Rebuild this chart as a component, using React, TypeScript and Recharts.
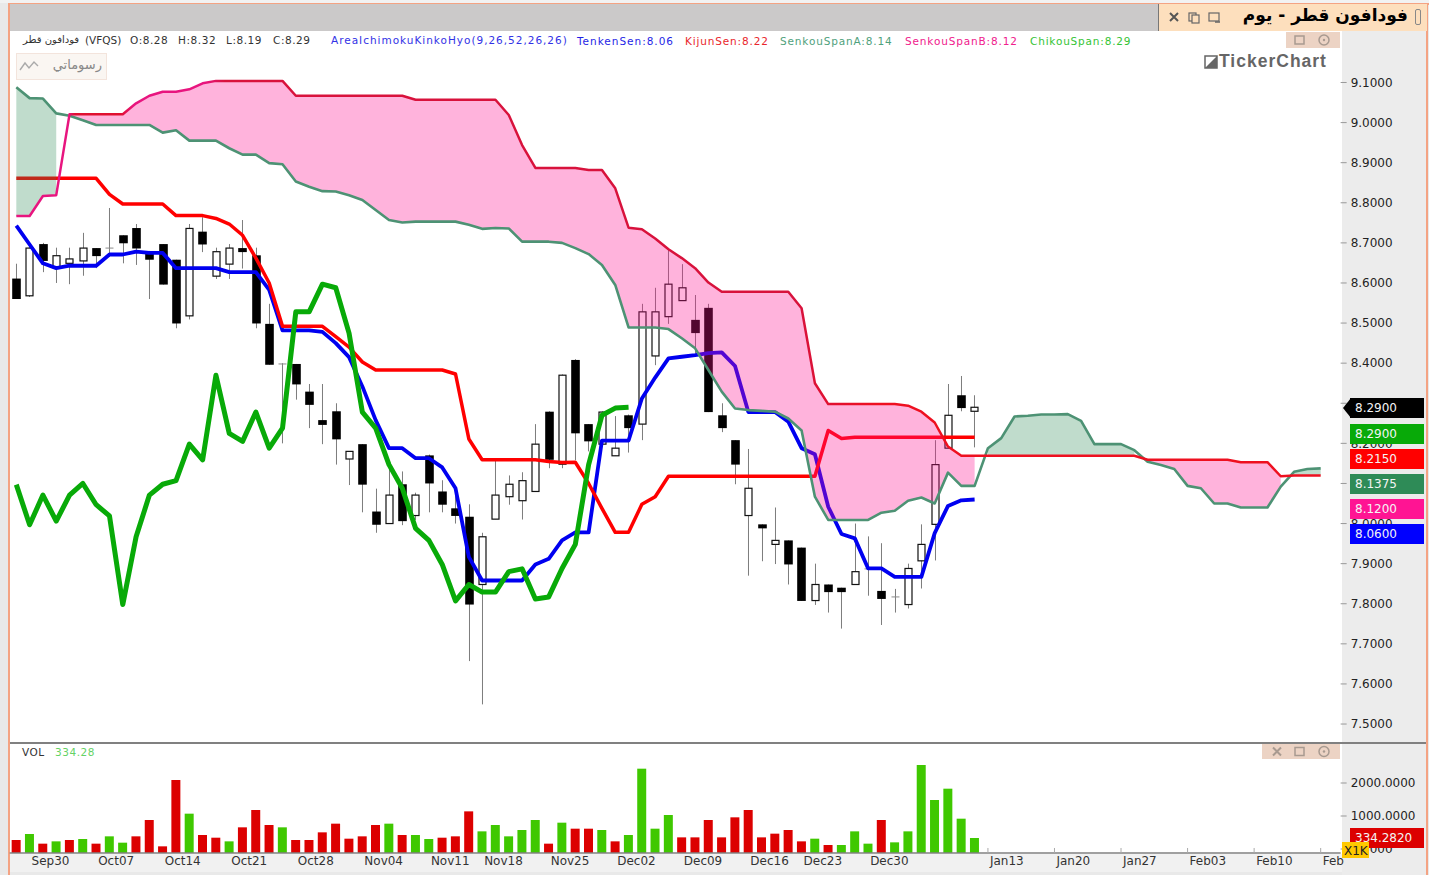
import React from "react";
import { ComposedChart, Bar, Line, Area, XAxis, YAxis, Cell } from "recharts";

const opens = [8.611,8.568,8.697,8.638,8.649,8.655,8.687,8.687,8.719,8.737,8.677,8.697,8.658,8.518,8.728,8.617,8.647,8.687,8.669,8.498,8.398,8.398,8.329,8.258,8.28,8.161,8.198,8.03,8.0,8.098,8.02,8.17,8.08,8.038,8.017,7.848,8.011,8.067,8.057,8.08,8.279,8.148,8.408,8.248,8.198,8.169,8.27,8.248,8.418,8.516,8.556,8.508,8.538,8.27,8.208,8.02,7.998,7.948,7.958,7.94,7.808,7.848,7.84,7.848,7.887,7.832,7.817,7.798,7.907,7.998,8.188,8.32,8.28];
const closes = [8.56,8.687,8.655,8.668,8.66,8.687,8.667,8.687,8.699,8.686,8.658,8.596,8.499,8.736,8.696,8.678,8.687,8.677,8.499,8.396,8.398,8.347,8.296,8.246,8.21,8.18,8.097,7.997,8.071,8.006,8.071,8.1,8.047,8.019,7.798,7.967,8.071,8.098,8.107,8.198,8.159,8.37,8.225,8.205,8.278,8.188,8.238,8.528,8.528,8.597,8.588,8.475,8.278,8.238,8.147,8.088,7.988,7.958,7.898,7.807,7.848,7.829,7.829,7.88,7.887,7.812,7.817,7.888,7.948,8.147,8.27,8.288,8.29];
const highs = [8.648,8.69,8.7,8.688,8.688,8.725,8.687,8.787,8.719,8.747,8.68,8.697,8.658,8.747,8.764,8.688,8.697,8.757,8.688,8.548,8.4,8.398,8.348,8.348,8.3,8.18,8.198,8.087,8.15,8.13,8.077,8.172,8.108,8.083,8.048,7.977,8.157,8.12,8.128,8.248,8.28,8.372,8.41,8.248,8.28,8.268,8.272,8.548,8.588,8.684,8.647,8.57,8.548,8.3,8.208,8.186,7.998,8.04,7.958,7.94,7.9,7.848,7.84,8.0,7.968,7.951,7.837,7.9,7.998,8.208,8.348,8.368,8.32];
const lows = [8.56,8.565,8.627,8.6,8.597,8.618,8.637,8.665,8.649,8.645,8.56,8.596,8.487,8.509,8.677,8.61,8.61,8.636,8.487,8.396,8.2,8.309,8.238,8.198,8.147,8.096,8.028,7.977,8.0,7.996,8.009,8.028,8.028,8.0,7.657,7.549,8.011,8.047,8.01,8.08,8.138,8.138,8.158,8.18,8.198,8.169,8.177,8.208,8.395,8.498,8.556,8.425,8.278,8.228,8.098,7.87,7.906,7.899,7.848,7.807,7.797,7.778,7.738,7.848,7.82,7.747,7.778,7.788,7.838,7.908,8.188,8.28,8.19];
const tenkan = [8.743,8.696,8.649,8.637,8.643,8.643,8.643,8.671,8.671,8.678,8.675,8.675,8.637,8.637,8.637,8.637,8.627,8.627,8.627,8.583,8.482,8.482,8.482,8.478,8.45,8.415,8.342,8.258,8.188,8.188,8.163,8.163,8.14,8.088,7.917,7.858,7.858,7.858,7.858,7.898,7.912,7.958,7.978,7.978,8.207,8.207,8.207,8.312,8.364,8.412,8.416,8.42,8.425,8.427,8.393,8.278,8.278,8.278,8.254,8.188,8.173,8.042,7.974,7.963,7.888,7.888,7.867,7.867,7.867,7.976,8.044,8.058,8.06];
const kijun = [8.861,8.861,8.861,8.861,8.861,8.861,8.861,8.821,8.797,8.797,8.797,8.797,8.768,8.768,8.768,8.761,8.747,8.719,8.662,8.6,8.492,8.492,8.492,8.492,8.466,8.44,8.403,8.383,8.383,8.383,8.383,8.383,8.383,8.373,8.211,8.159,8.159,8.159,8.159,8.159,8.155,8.152,8.153,8.1,8.038,7.978,7.978,8.048,8.067,8.118,8.118,8.118,8.118,8.118,8.118,8.118,8.118,8.118,8.118,8.118,8.118,8.232,8.212,8.215,8.215,8.215,8.215,8.215,8.215,8.215,8.215,8.215,8.215];
const chikou = [8.097,7.997,8.071,8.006,8.071,8.1,8.047,8.019,7.798,7.967,8.071,8.098,8.107,8.198,8.159,8.37,8.225,8.205,8.278,8.188,8.238,8.528,8.528,8.597,8.588,8.475,8.278,8.238,8.147,8.088,7.988,7.958,7.898,7.807,7.848,7.829,7.829,7.88,7.887,7.812,7.817,7.888,7.948,8.147,8.27,8.288,8.29];
const senkouA = [9.088,9.061,9.06,9.023,9.017,9.006,8.994,8.994,8.994,8.994,8.994,8.975,8.981,8.955,8.955,8.955,8.936,8.92,8.92,8.899,8.896,8.853,8.84,8.829,8.828,8.819,8.807,8.782,8.757,8.751,8.753,8.753,8.753,8.753,8.745,8.735,8.737,8.736,8.703,8.703,8.703,8.7,8.687,8.672,8.645,8.595,8.489,8.489,8.489,8.485,8.462,8.437,8.383,8.329,8.287,8.283,8.281,8.279,8.262,8.232,8.067,8.009,8.009,8.009,8.009,8.027,8.032,8.057,8.065,8.05,8.127,8.094,8.094,8.188,8.213,8.267,8.269,8.272,8.272,8.273,8.256,8.198,8.198,8.198,8.183,8.154,8.146,8.136,8.094,8.088,8.05,8.05,8.04,8.04,8.04,8.092,8.129,8.136,8.1375];
const senkouB = [8.767,8.767,8.817,8.819,9.021,9.021,9.021,9.021,9.021,9.048,9.067,9.077,9.077,9.083,9.098,9.104,9.104,9.104,9.104,9.104,9.104,9.067,9.067,9.067,9.067,9.067,9.067,9.067,9.067,9.067,9.057,9.057,9.057,9.057,9.057,9.057,9.057,9.019,8.944,8.887,8.887,8.887,8.887,8.882,8.882,8.836,8.738,8.734,8.711,8.684,8.662,8.637,8.601,8.578,8.578,8.578,8.578,8.578,8.578,8.537,8.35,8.298,8.298,8.298,8.298,8.298,8.298,8.294,8.279,8.252,8.192,8.169,8.169,8.169,8.169,8.169,8.169,8.169,8.169,8.169,8.169,8.169,8.169,8.169,8.169,8.159,8.159,8.159,8.159,8.159,8.159,8.159,8.153,8.153,8.153,8.118,8.12,8.12,8.12];
const volumes = [273,455,162,232,273,303,162,384,192,384,879,81,2091,1071,424,343,232,657,1182,727,657,273,273,505,768,313,384,727,768,424,424,303,343,384,1141,535,727,384,576,879,162,798,616,616,576,232,424,2434,616,1030,353,353,879,353,960,1182,353,465,576,232,313,121,121,535,162,879,202,535,2545,1485,1828,919,334.282];
const volumeUp = [0,1,0,1,0,1,0,1,1,0,0,0,0,1,0,0,1,0,0,0,1,0,0,0,0,0,0,0,1,0,1,1,0,0,0,1,1,1,1,1,0,1,0,0,1,0,1,1,1,1,0,0,0,0,0,0,0,0,0,0,1,0,1,1,1,0,1,1,1,1,1,1,1];
const priceTicks = [9.1,9.0,8.9,8.8,8.7,8.6,8.5,8.4,8.3,8.2,8.1,8.0,7.9,7.8,7.7,7.6,7.5];
const volumeTicks = [0,1000,2000];
const dateTickIndex = [1,6,11,16,21,26,31,35,40,45,50,55,59,64,73,78,83,88,93,98];
const dateTickLabels = ["Sep30","Oct07","Oct14","Oct21","Oct28","Nov04","Nov11","Nov18","Nov25","Dec02","Dec09","Dec16","Dec23","Dec30","Jan13","Jan20","Jan27","Feb03","Feb10","Feb"];
const lastValues = { close: 8.29, chikou: 8.29, kijun: 8.215, spanA: 8.1375, spanB: 8.12, tenkan: 8.06, volume: 334.282 };

const rows = Array.from({ length: 100 }, (_, i) => {
  const a = senkouA[i] ?? null;
  const b = senkouB[i] ?? null;
  const has = a !== null && b !== null;
  return {
    i,
    open: opens[i] ?? null,
    close: closes[i] ?? null,
    high: highs[i] ?? null,
    low: lows[i] ?? null,
    range: highs[i] != null ? [lows[i], highs[i]] : null,
    tenkan: tenkan[i] ?? null,
    kijun: kijun[i] ?? null,
    chikou: chikou[i] ?? null,
    a,
    b,
    pinkCloud: has && b > a ? [a, b] : null,
    greenCloud: has && a >= b ? [b, a] : null,
  };
});

const VOL_FLOOR = -121;
const volRows = Array.from({ length: 100 }, (_, i) => ({
  i,
  vol: volumes[i] != null ? [VOL_FLOOR, volumes[i]] : null,
}));

const uiFont = '"DejaVu Sans", sans-serif';
const lineJoin = { strokeLinejoin: "round", strokeLinecap: "butt" } as any;

const Candle = (props: any) => {
  const { x, y, width, height, payload } = props;
  if (!payload || payload.high == null) return null;
  const top = Math.min(y, y + height);
  const h = Math.abs(height);
  const span = payload.high - payload.low || 1;
  const py = (p: number) => top + ((payload.high - p) / span) * h;
  const cx = Math.round(x + width / 2) + 0.5;
  const up = payload.close > payload.open;
  const bt = py(Math.max(payload.open, payload.close));
  const bb = py(Math.min(payload.open, payload.close));
  const doji = Math.abs(payload.close - payload.open) < 0.001;
  return (
    <g>
      <line x1={cx} x2={cx} y1={top} y2={top + h} stroke="#7c7c7c" strokeWidth={1} />
      {doji ? (
        <line x1={cx - 4} x2={cx + 4} y1={bt} y2={bt} stroke="#8a8a8a" strokeWidth={1} />
      ) : up ? (
        <rect x={cx - 3.5} y={bt} width={7} height={bb - bt} fill="#fff" stroke="#111" strokeWidth={1.2} />
      ) : (
        <rect x={cx - 4.3} y={bt} width={8.6} height={bb - bt} fill="#000" />
      )}
    </g>
  );
};

const XTick = (props: any) => {
  const { x, payload } = props;
  const k = dateTickIndex.indexOf(payload.value);
  return (
    <g>
      {payload.value >= 73 && <line x1={x} x2={x} y1={104} y2={109} stroke="#aaa" />}
      <text x={x + 2} y={121} fontFamily={uiFont} fontSize={12} fill="#333" textAnchor="start">
        {dateTickLabels[k]}
      </text>
    </g>
  );
};

const Txt = ({ x, y, c, s = 10.5, f = uiFont, w = 400, children, ls = 0.55 }: any) => (
  <div style={{ position: "absolute", left: x, top: y, color: c, fontSize: s, fontFamily: f, fontWeight: w, whiteSpace: "nowrap", lineHeight: "14px", letterSpacing: ls }}>
    {children}
  </div>
);

const Box = ({ x, y, w, h, bg, style }: any) => (
  <div style={{ position: "absolute", left: x, top: y, width: w, height: h, background: bg, ...style }} />
);

const Badge = ({ y, bg, v }: any) => (
  <div style={{ position: "absolute", left: 1350, top: y, width: 74, height: 20, background: bg, color: "#f4f4f4", fontFamily: uiFont, fontSize: 12, lineHeight: "20px", paddingLeft: 5, boxSizing: "border-box" }}>
    {v}
  </div>
);

const PanelIcons = ({ x, y, w, h, close }: any) => (
  <svg style={{ position: "absolute", left: x, top: y }} width={w} height={h}>
    <rect width={w} height={h} fill="#ecd3c4" />
    {close && <path d={`M11 ${h / 2 - 4} l8 8 m0 -8 l-8 8`} stroke="#a89a90" strokeWidth={2} />}
    <rect x={w - 45} y={h / 2 - 4} width={9} height={8} fill="none" stroke="#a89a90" strokeWidth={1.5} />
    <circle cx={w - 16} cy={h / 2} r={5} fill="none" stroke="#a89a90" strokeWidth={1.5} />
    <circle cx={w - 16} cy={h / 2} r={1.2} fill="#a89a90" />
  </svg>
);

export default function App() {
  return (
    <div style={{ position: "absolute", left: 0, top: 0, width: 1429, height: 875, overflow: "hidden", background: "#e9e9e9" }}>
      <Box x={0} y={0} w={1429} h={3} bg="#f2f2f2" />
      <Box x={8} y={3} w={1421} h={1.5} bg="#f4a383" />
      <Box x={8} y={3} w={2} h={872} bg="#f4a383" />
      <Box x={1426} y={3} w={2} h={872} bg="#f4a383" />
      <Box x={10} y={4} w={1416} h={27} bg="#cbc9c9" />
      <Box x={1158} y={4} w={268} h={27} bg="#fddfbd" style={{ borderLeft: "1px solid #777" }} />
      <Box x={10} y={31} w={1332} h={823} bg="#fff" />
      <Box x={1342} y={31} w={84} h={844} bg="#ececec" />
      <Box x={10} y={854} w={1332} h={18} bg="#f1f1f1" />

      <div style={{ position: "absolute", left: 0, top: 0 }}>
        <ComposedChart width={1425.65} height={742} data={rows} margin={{ top: 30, right: 0, bottom: 0, left: 9.65 }}>
          <defs>
            <linearGradient id="spanB" x1="0" x2="1" y1="0" y2="0">
              <stop offset="0" stopColor="#e8157f" />
              <stop offset="0.04" stopColor="#e8157f" />
              <stop offset="0.045" stopColor="#e01030" />
              <stop offset="0.08" stopColor="#e01030" />
              <stop offset="0.09" stopColor="#e8157f" />
              <stop offset="0.145" stopColor="#e8157f" />
              <stop offset="0.16" stopColor="#d8123c" />
              <stop offset="0.6" stopColor="#d8123c" />
              <stop offset="0.66" stopColor="#ee1020" />
              <stop offset="1" stopColor="#ee1020" />
            </linearGradient>
          </defs>
          <XAxis dataKey="i" hide />
          <YAxis
            orientation="right"
            width={85}
            domain={[7.4552, 9.2309]}
            ticks={priceTicks}
            tickFormatter={(v: number) => v.toFixed(4)}
            axisLine={false}
            tickSize={6}
            tickMargin={4}
            interval={0}
            tickLine={{ stroke: "#999" }}
            tick={{ fontFamily: uiFont, fontSize: 12, fill: "#222" }}
          />
          <Bar dataKey="range" barSize={9} shape={Candle} isAnimationActive={false} />
          <Line dataKey="tenkan" stroke="#0000f0" strokeWidth={3.8} dot={false} isAnimationActive={false} {...lineJoin} />
          <Line dataKey="kijun" stroke="#ff0000" strokeWidth={3.5} dot={false} isAnimationActive={false} {...lineJoin} />
          <Line dataKey="chikou" stroke="#08aa08" strokeWidth={5} dot={false} isAnimationActive={false} {...lineJoin} />
          <Area dataKey="pinkCloud" stroke="none" fill="#ff1493" fillOpacity={0.32} dot={false} activeDot={false} isAnimationActive={false} {...({ zIndex: 450 } as any)} />
          <Area dataKey="greenCloud" stroke="none" fill="#2e8b57" fillOpacity={0.3} dot={false} activeDot={false} isAnimationActive={false} {...({ zIndex: 450 } as any)} />
          <Line dataKey="a" stroke="#4d9274" strokeWidth={2.6} dot={false} isAnimationActive={false} {...lineJoin} {...({ zIndex: 460 } as any)} />
          <Line dataKey="b" stroke="url(#spanB)" strokeWidth={2.5} dot={false} isAnimationActive={false} {...lineJoin} {...({ zIndex: 460 } as any)} />
        </ComposedChart>
      </div>

      <div style={{ position: "absolute", left: 0, top: 744 }}>
        <ComposedChart width={1425.65} height={131} data={volRows} margin={{ top: 0, right: 0, bottom: 0, left: 9.65 }}>
          <XAxis
            dataKey="i"
            height={22}
            ticks={dateTickIndex}
            interval={0}
            axisLine={{ stroke: "#808080", strokeWidth: 1.6 }}
            tickLine={false}
            tick={XTick}
          />
          <YAxis
            orientation="right"
            width={85}
            domain={[VOL_FLOOR, 3182]}
            ticks={volumeTicks}
            tickFormatter={(v: number) => v.toFixed(4)}
            axisLine={false}
            tickSize={6}
            tickMargin={4}
            interval={0}
            tickLine={{ stroke: "#999" }}
            tick={{ fontFamily: uiFont, fontSize: 12, fill: "#222" }}
          />
          <Bar dataKey="vol" barSize={9} isAnimationActive={false}>
            {volRows.map((r) => (
              <Cell key={r.i} fill={volumeUp[r.i] ? "#3fc800" : "#dc0000"} />
            ))}
          </Bar>
        </ComposedChart>
      </div>

      <Box x={10} y={742} w={1416} h={2} bg="#808080" />

      {/* window title */}
      <svg style={{ position: "absolute", left: 1165, top: 8 }} width={60} height={18}>
        <path d="M5 5 l8 8 m0 -8 l-8 8" stroke="#555" strokeWidth={2} />
        <rect x={24} y={5} width={7} height={8} fill="none" stroke="#666" strokeWidth={1.2} />
        <rect x={27} y={7} width={7} height={8} fill="#fddfbd" stroke="#666" strokeWidth={1.2} />
        <rect x={44} y={5} width={10} height={8} fill="none" stroke="#666" strokeWidth={1.2} />
        <path d="M50 14 h5" stroke="#666" strokeWidth={1.5} />
      </svg>
      <div dir="rtl" style={{ position: "absolute", left: 1200, width: 208, top: 3, height: 25, textAlign: "right", fontFamily: uiFont, fontWeight: 700, fontSize: 17, lineHeight: "25px", color: "#000", whiteSpace: "nowrap" }}>
        فودافون قطر - يوم
      </div>
      <Box x={1415} y={9} w={6} h={16} bg="transparent" style={{ border: "1px solid #888", borderRadius: 2, boxSizing: "border-box" }} />

      {/* legend row */}
      <Txt x={23} y={33} c="#333" s={10} ls={0}>فودافون قطر</Txt>
      <Txt x={85} y={33} c="#333" ls={0}>(VFQS)</Txt>
      <Txt x={130} y={33} c="#333">O:8.28</Txt>
      <Txt x={178} y={33} c="#333">H:8.32</Txt>
      <Txt x={226} y={33} c="#333">L:8.19</Txt>
      <Txt x={273} y={33} c="#333">C:8.29</Txt>
      <Txt x={331} y={33} c="#3232e6" ls={0.98}>AreaIchimokuKinkoHyo(9,26,52,26,26)</Txt>
      <Txt x={577} y={34} c="#1f1fe6" ls={0.98}>TenkenSen:8.06</Txt>
      <Txt x={685} y={34} c="#e9262c" ls={0.85}>KijunSen:8.22</Txt>
      <Txt x={780} y={34} c="#4fa17c" ls={0.85}>SenkouSpanA:8.14</Txt>
      <Txt x={905} y={34} c="#f0208c" ls={0.85}>SenkouSpanB:8.12</Txt>
      <Txt x={1030} y={34} c="#35c435" ls={0.82}>ChikouSpan:8.29</Txt>

      <PanelIcons x={1286} y={32} w={54} h={16} />
      <PanelIcons x={1262} y={744} w={78} h={15} close />

      {/* drawings button */}
      <div style={{ position: "absolute", left: 16, top: 53, width: 91, height: 27, background: "#faf6f2", border: "1px solid #f3e4dc", boxSizing: "border-box" }} />
      <svg style={{ position: "absolute", left: 19, top: 58 }} width={22} height={16}>
        <path d="M1 12 L6 5 L10 10 L15 4 L19 8" fill="none" stroke="#aaa" strokeWidth={1.4} />
      </svg>
      <div dir="rtl" style={{ position: "absolute", left: 44, top: 57, width: 58, textAlign: "right", fontFamily: uiFont, fontSize: 13, lineHeight: "16px", color: "#888" }}>
        رسوماتي
      </div>

      {/* watermark */}
      <svg style={{ position: "absolute", left: 1204, top: 55 }} width={14} height={14}>
        <rect x={1} y={1} width={12} height={12} fill="#fff" stroke="#666" strokeWidth={1.5} />
        <path d="M1 13 L13 1 L13 13 Z" fill="#666" />
      </svg>
      <Txt x={1219} y={54} c="#666" f='"Liberation Sans", sans-serif' s={17.5} w={700} ls={1}>TickerChart</Txt>

      {/* last value badges */}
      <svg style={{ position: "absolute", left: 1343, top: 398 }} width={10} height={20}>
        <path d="M8 0 L0 10 L8 20 Z" fill="#000" />
      </svg>
      <Badge y={398} bg="#000" v={lastValues.close.toFixed(4)} />
      <Badge y={424} bg="#08aa08" v={lastValues.chikou.toFixed(4)} />
      <Badge y={449} bg="#ff0000" v={lastValues.kijun.toFixed(4)} />
      <Badge y={474} bg="#2e8b57" v={lastValues.spanA.toFixed(4)} />
      <Badge y={499} bg="#ff1493" v={lastValues.spanB.toFixed(4)} />
      <Badge y={524} bg="#0000ff" v={lastValues.tenkan.toFixed(4)} />

      {/* volume panel */}
      <Txt x={22} y={745} c="#333">VOL</Txt>
      <Txt x={55} y={745} c="#64d264">334.28</Txt>
      <Badge y={828} bg="#dc0000" v={lastValues.volume.toFixed(4)} />
      <div style={{ position: "absolute", left: 1342, top: 842, width: 27, height: 16, background: "#ffc800", color: "#222", fontFamily: uiFont, fontSize: 12, lineHeight: "18px", paddingLeft: 2, boxSizing: "border-box" }}>X1K</div>
    </div>
  );
}
